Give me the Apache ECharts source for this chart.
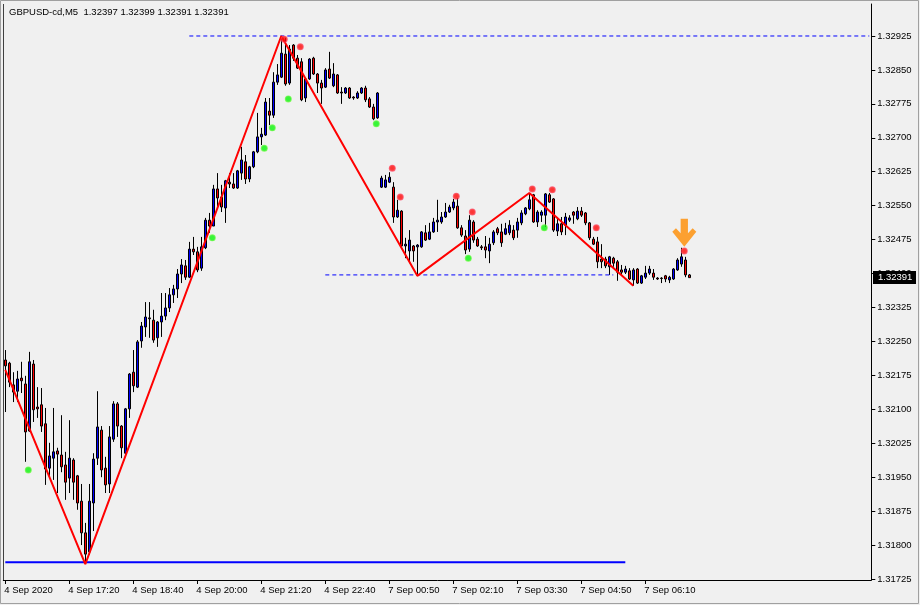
<!DOCTYPE html>
<html><head><meta charset="utf-8">
<script src="https://cdn.jsdelivr.net/npm/echarts@6/dist/echarts.min.js"></script>
<style>html,body{margin:0;padding:0;background:#f0f0f0}#c{width:920px;height:605px}</style>
</head><body><div id="c"></div><script>
const titleText = "GBPUSD-cd,M5  1.32397 1.32399 1.32391 1.32391";
const tickLabels = ["4 Sep 2020","4 Sep 17:20","4 Sep 18:40","4 Sep 20:00","4 Sep 21:20","4 Sep 22:40","7 Sep 00:50","7 Sep 02:10","7 Sep 03:30","7 Sep 04:50","7 Sep 06:10"];
const yTicks = [1.31725,1.31800,1.31875,1.31950,1.32025,1.32100,1.32175,1.32250,1.32325,1.32400,1.32475,1.32550,1.32625,1.32700,1.32775,1.32850,1.32925];

const open = [
1.32209,1.32202,1.32154,1.32140,1.32169,1.32156,1.32052,1.32200,1.32105,1.32110,
1.32068,1.31970,1.31992,1.32008,1.31999,1.31977,1.31948,1.31988,1.31953,1.31897,
1.31827,1.31785,1.31893,1.31992,1.32054,1.31970,1.31935,1.32034,1.32112,1.32063,
1.32003,1.32101,1.32182,1.32149,1.32251,1.32282,1.32302,1.32297,1.32258,1.32293,
1.32306,1.32324,1.32353,1.32366,1.32399,1.32417,1.32392,1.32454,1.32448,1.32412,
1.32457,1.32518,1.32505,1.32587,1.32569,1.32545,1.32602,1.32598,1.32589,1.32622,
1.32647,1.32609,1.32636,1.32669,1.32702,1.32706,1.32759,1.32750,1.32823,1.32834,
1.32885,1.32821,1.32905,1.32876,1.32868,1.32788,1.32830,1.32876,1.32841,1.32821,
1.32812,1.32852,1.32815,1.32839,1.32801,1.32799,1.32810,1.32790,1.32788,1.32799,
1.32810,1.32786,1.32768,1.32744,1.32591,1.32591,1.32602,1.32591,1.32525,1.32538,
1.32461,1.32450,1.32461,1.32459,1.32459,1.32490,1.32476,1.32492,1.32514,1.32514,
1.32525,1.32536,1.32545,1.32549,1.32501,1.32483,1.32454,1.32514,1.32476,1.32459,
1.32459,1.32450,1.32468,1.32499,1.32492,1.32487,1.32490,1.32496,1.32496,1.32512,
1.32532,1.32543,1.32574,1.32514,1.32529,1.32529,1.32574,1.32565,1.32494,1.32510,
1.32507,1.32518,1.32536,1.32521,1.32538,1.32534,1.32512,1.32476,1.32470,1.32432,
1.32432,1.32415,1.32434,1.32426,1.32408,1.32403,1.32406,1.32386,1.32410,1.32379,
1.32392,1.32401,1.32401,1.32390,1.32390,1.32395,1.32386,1.32388,1.32408,1.32421,
1.32430,1.32397];
const close = [
1.32196,1.32160,1.32138,1.32167,1.32163,1.32050,1.32205,1.32099,1.32101,1.32063,
1.31968,1.31997,1.32006,1.32001,1.31973,1.31939,1.31992,1.31939,1.31893,1.31827,
1.31780,1.31897,1.31990,1.32061,1.31966,1.31933,1.32039,1.32112,1.32063,1.32015,
1.32101,1.32178,1.32152,1.32249,1.32284,1.32304,1.32300,1.32253,1.32293,1.32306,
1.32324,1.32353,1.32366,1.32399,1.32419,1.32392,1.32454,1.32448,1.32408,1.32459,
1.32518,1.32505,1.32587,1.32567,1.32547,1.32605,1.32598,1.32589,1.32627,1.32651,
1.32609,1.32636,1.32669,1.32702,1.32708,1.32779,1.32750,1.32823,1.32839,1.32887,
1.32819,1.32896,1.32876,1.32854,1.32784,1.32830,1.32874,1.32841,1.32821,1.32810,
1.32850,1.32832,1.32841,1.32799,1.32799,1.32810,1.32788,1.32788,1.32799,1.32810,
1.32784,1.32768,1.32742,1.32799,1.32611,1.32607,1.32613,1.32525,1.32540,1.32461,
1.32465,1.32474,1.32450,1.32463,1.32492,1.32474,1.32492,1.32514,1.32518,1.32525,
1.32536,1.32547,1.32558,1.32501,1.32485,1.32452,1.32518,1.32474,1.32461,1.32457,
1.32452,1.32465,1.32492,1.32490,1.32468,1.32499,1.32507,1.32479,1.32514,1.32534,
1.32545,1.32563,1.32514,1.32536,1.32536,1.32576,1.32558,1.32496,1.32510,1.32492,
1.32525,1.32523,1.32529,1.32538,1.32529,1.32512,1.32479,1.32465,1.32426,1.32426,
1.32417,1.32437,1.32423,1.32403,1.32403,1.32410,1.32388,1.32408,1.32379,1.32395,
1.32401,1.32410,1.32392,1.32388,1.32389,1.32388,1.32392,1.32410,1.32430,1.32437,
1.32397,1.32391];
const high = [
1.32231,1.32205,1.32182,1.32185,1.32205,1.32174,1.32227,1.32209,1.32149,1.32147,
1.32103,1.32026,1.32103,1.32015,1.32087,1.32006,1.32076,1.31992,1.31955,1.31935,
1.31849,1.31935,1.32003,1.32140,1.32063,1.31995,1.32063,1.32118,1.32116,1.32065,
1.32103,1.32180,1.32231,1.32253,1.32293,1.32337,1.32337,1.32320,1.32295,1.32357,
1.32357,1.32368,1.32375,1.32410,1.32432,1.32430,1.32470,1.32481,1.32459,1.32481,
1.32523,1.32534,1.32596,1.32622,1.32596,1.32607,1.32622,1.32622,1.32629,1.32680,
1.32662,1.32638,1.32671,1.32755,1.32722,1.32788,1.32788,1.32845,1.32863,1.32925,
1.32921,1.32905,1.32907,1.32883,1.32876,1.32832,1.32876,1.32879,1.32843,1.32828,
1.32854,1.32890,1.32865,1.32841,1.32812,1.32812,1.32812,1.32792,1.32803,1.32812,
1.32815,1.32790,1.32775,1.32801,1.32616,1.32618,1.32624,1.32602,1.32563,1.32540,
1.32479,1.32496,1.32463,1.32465,1.32494,1.32507,1.32512,1.32523,1.32563,1.32536,
1.32556,1.32552,1.32565,1.32567,1.32507,1.32496,1.32529,1.32518,1.32481,1.32463,
1.32483,1.32479,1.32496,1.32503,1.32510,1.32512,1.32518,1.32507,1.32523,1.32540,
1.32547,1.32578,1.32576,1.32540,1.32540,1.32578,1.32578,1.32567,1.32525,1.32525,
1.32534,1.32529,1.32538,1.32547,1.32547,1.32536,1.32514,1.32481,1.32481,1.32465,
1.32437,1.32439,1.32437,1.32430,1.32419,1.32417,1.32412,1.32412,1.32412,1.32397,
1.32417,1.32417,1.32410,1.32392,1.32392,1.32397,1.32395,1.32412,1.32434,1.32457,
1.32437,1.32399];
const low = [
1.32094,1.32149,1.32116,1.32116,1.32136,1.31984,1.32050,1.32072,1.32081,1.32050,
1.31933,1.31950,1.31944,1.31915,1.31961,1.31900,1.31915,1.31900,1.31878,1.31800,
1.31758,1.31778,1.31831,1.31977,1.31950,1.31915,1.31915,1.32028,1.32039,1.31992,
1.32001,1.32081,1.32138,1.32147,1.32236,1.32260,1.32258,1.32247,1.32238,1.32260,
1.32297,1.32315,1.32335,1.32346,1.32379,1.32386,1.32390,1.32441,1.32403,1.32406,
1.32454,1.32490,1.32505,1.32549,1.32536,1.32512,1.32589,1.32587,1.32587,1.32607,
1.32598,1.32602,1.32633,1.32666,1.32684,1.32704,1.32728,1.32744,1.32817,1.32832,
1.32815,1.32817,1.32870,1.32852,1.32781,1.32779,1.32828,1.32839,1.32799,1.32775,
1.32810,1.32830,1.32812,1.32797,1.32775,1.32797,1.32786,1.32784,1.32786,1.32797,
1.32779,1.32766,1.32739,1.32742,1.32589,1.32589,1.32600,1.32512,1.32523,1.32457,
1.32434,1.32423,1.32426,1.32395,1.32457,1.32472,1.32474,1.32490,1.32492,1.32510,
1.32523,1.32534,1.32540,1.32499,1.32481,1.32443,1.32448,1.32468,1.32459,1.32452,
1.32434,1.32423,1.32463,1.32485,1.32459,1.32485,1.32485,1.32474,1.32479,1.32507,
1.32529,1.32540,1.32512,1.32503,1.32514,1.32503,1.32556,1.32492,1.32483,1.32485,
1.32485,1.32514,1.32510,1.32518,1.32525,1.32507,1.32474,1.32463,1.32412,1.32412,
1.32412,1.32397,1.32415,1.32384,1.32397,1.32399,1.32386,1.32373,1.32377,1.32377,
1.32388,1.32397,1.32386,1.32386,1.32379,1.32381,1.32379,1.32386,1.32406,1.32415,
1.32392,1.32391];

const zigzagIdx = [0, 20, 69, 103, 131, 157];
const zigzagVal = [1.32187, 1.31758, 1.32925, 1.32395, 1.32578, 1.32373];
const upMarkIdx = [69, 73, 96, 98, 112, 116, 131, 136, 147, 169];
const upMarkVal = [1.32918, 1.32901, 1.32633, 1.32569, 1.32571, 1.32536, 1.32587, 1.32585, 1.32501, 1.32450];
const dnMarkIdx = [5, 51, 64, 66, 70, 92, 115, 134];
const dnMarkVal = [1.31966, 1.32479, 1.32677, 1.32722, 1.32786, 1.32731, 1.32434, 1.32501];
const signalIdx = [169];
const signalVal = [1.32490];
const supportLine = {from: 0, to: 155, value: 1.31762};
const topLine = {from: 46, to: 216, value: 1.32925};
const midLine = {from: 80, to: 152, value: 1.32397};
const lastPrice = 1.32391;

const SLOTS = 217;
const categories = [];
for (let i = 0; i < SLOTS; i++) {
  const fri = i < 94;
  const mins = fri ? 960 + 5 * i : 40 + 5 * (i - 94);
  const hh = String(Math.floor(mins / 60)).padStart(2, '0');
  const mm = String(mins % 60).padStart(2, '0');
  categories.push((fri ? '4' : '7') + ' Sep ' + hh + ':' + mm);
}
const TICK_EVERY = 16;
const showTick = (idx) => idx % TICK_EVERY === 0 && idx / TICK_EVERY < tickLabels.length;

const FONT = 'Liberation Sans';
const pair = (idx, val) => idx.map((x, k) => [x, val[k]]);
const span = (o) => [[o.from, o.value], [o.to, o.value]];

const chart = echarts.init(document.getElementById('c'), null, {renderer: 'canvas'});
const arrowPath = 'path://M8.5,0 L15.5,0 L15.5,14 L20,9 L23.5,12.5 L12,27 L0.5,12.5 L4,9 L8.5,14 Z';

chart.setOption({
  animation: false,
  backgroundColor: '#f0f0f0',
  grid: {left: 3.3, right: 48.7, top: 4, bottom: 25, containLabel: false, outerBoundsMode: 'none'},
  xAxis: {
    type: 'category', data: categories, boundaryGap: true,
    axisLine: {show: true, lineStyle: {color: '#000', width: 1}},
    axisTick: {show: true, alignWithLabel: true, interval: (i) => showTick(i), length: 4, lineStyle: {color: '#000'}},
    axisLabel: {interval: (i) => showTick(i), formatter: (v, i) => tickLabels[i / TICK_EVERY] || '',
      align: 'left', margin: 5, color: '#000', fontSize: 9.5, fontFamily: FONT, padding: [0, 0, 0, -1]},
    splitLine: {show: false}
  },
  yAxis: {
    type: 'value', position: 'right', scale: true,
    min: 1.317228, max: 1.329957,
    axisLine: {show: true, lineStyle: {color: '#000', width: 1}},
    axisTick: {show: true, length: 4, lineStyle: {color: '#000'}, customValues: yTicks},
    axisLabel: {customValues: yTicks, formatter: (v) => v.toFixed(5), margin: 6, color: '#000',
      fontSize: 9.5, fontFamily: FONT, align: 'left'},
    splitLine: {show: false}
  },
  series: [
    {
      type: 'candlestick', name: 'GBPUSD',
      data: open.map((o, i) => [o, close[i], low[i], high[i]]),
      barWidth: 3,
      itemStyle: {color: '#0000ff', color0: '#ff0000', borderColor: '#000000', borderColor0: '#000000',
        borderColorDoji: '#000000', borderWidth: 1},
      z: 2
    },
    {type: 'line', data: span(supportLine), symbol: 'none', lineStyle: {color: '#0000ff', width: 2}, z: 3, silent: true},
    {type: 'line', data: span(topLine), symbol: 'none', lineStyle: {color: '#0000ff', width: 1, type: [4, 3]}, z: 3, silent: true},
    {type: 'line', data: span(midLine), symbol: 'none', lineStyle: {color: '#0000ff', width: 1, type: [4, 3]}, z: 3, silent: true},
    {type: 'line', data: pair(zigzagIdx, zigzagVal), symbol: 'none', lineStyle: {color: '#ff0000', width: 2}, z: 4, silent: true},
    {type: 'scatter', data: pair(upMarkIdx, upMarkVal), symbol: 'circle', symbolSize: 7, symbolOffset: [3, 0],
      itemStyle: {color: {type: 'radial', x: 0.5, y: 0.5, r: 0.5, colorStops: [{offset: 0, color: '#ff0000'}, {offset: 0.6, color: '#ff1010'}, {offset: 1, color: '#ff5070'}]}}, z: 5},
    {type: 'scatter', data: pair(dnMarkIdx, dnMarkVal), symbol: 'circle', symbolSize: 7, symbolOffset: [3, 0],
      itemStyle: {color: {type: 'radial', x: 0.5, y: 0.5, r: 0.5, colorStops: [{offset: 0, color: '#00ff00'}, {offset: 0.6, color: '#10f010'}, {offset: 1, color: '#70ff40'}]}}, z: 5},
    {type: 'scatter', data: pair(signalIdx, signalVal), symbol: arrowPath, symbolSize: [24, 28], symbolOffset: [3, 0],
      itemStyle: {color: '#ff8c00'}, z: 6}
  ],
  graphic: [
    {type: 'rect', shape: {x: 0.5, y: 0.5, width: 918, height: 603}, style: {fill: 'none', stroke: '#a0a0a0', lineWidth: 1}, z: 100},
    {type: 'line', shape: {x1: 3.5, y1: 4, x2: 3.5, y2: 580}, style: {stroke: '#404040', lineWidth: 1}, z: 100},
    {type: 'text', x: 9, y: 7, style: {text: titleText, font: '9.5px "Liberation Sans"', fill: '#000'}, z: 100},
    {type: 'rect', shape: {x: 873, y: 271, width: 43, height: 13}, style: {fill: '#000'}, z: 100},
    {type: 'text', x: 878, y: 272, style: {text: lastPrice.toFixed(5), font: '9.5px "Liberation Sans"', fill: '#fff'}, z: 101}
  ]
});
</script></body></html>
